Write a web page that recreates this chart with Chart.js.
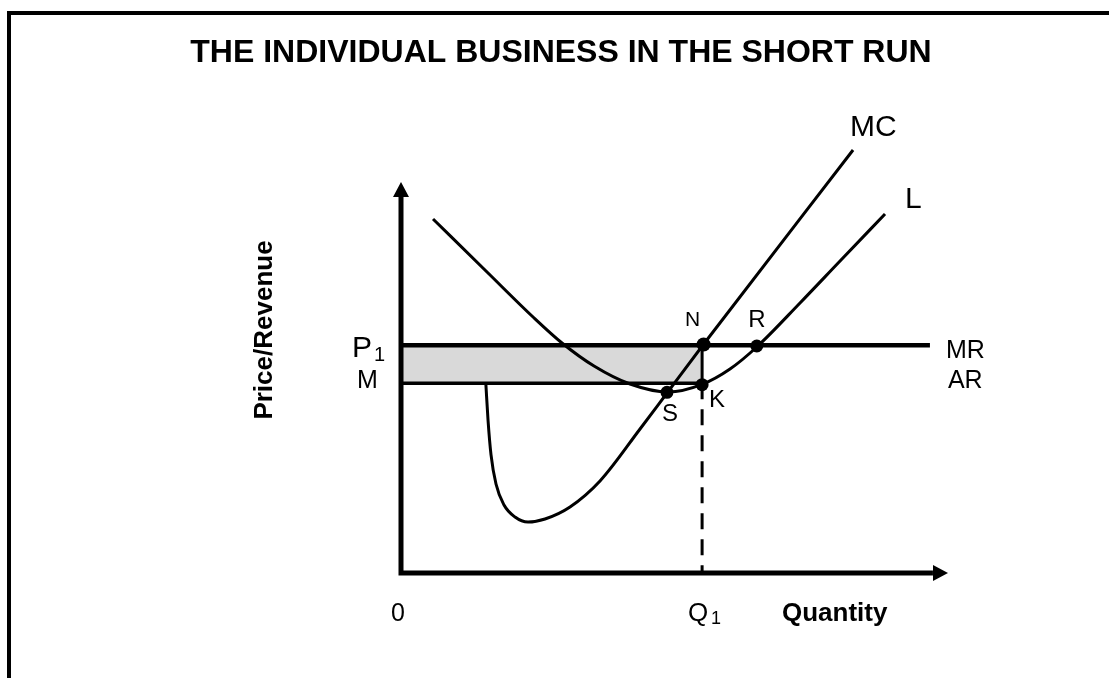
<!DOCTYPE html>
<html>
<head>
<meta charset="utf-8">
<title>The individual business in the short run</title>
<script src="https://cdn.jsdelivr.net/npm/chart.js@4.4.0/dist/chart.umd.min.js"></script>
<style>
  html, body { margin: 0; padding: 0; background: #fff; }
  #wrap { position: relative; width: 1109px; height: 678px; overflow: hidden; }
  #frame { position: absolute; left: 7px; top: 11px; right: 0; bottom: 0;
           border-left: 4px solid #000; border-top: 4px solid #000; }
  canvas { position: absolute; left: 0; top: 0; }
</style>
</head>
<body>
<div id="wrap">
  <div id="frame"></div>
  <canvas id="chart" width="1109" height="678"></canvas>
</div>
<script>
const TITLE = 'THE INDIVIDUAL BUSINESS IN THE SHORT RUN';
const X_TITLE = 'Quantity';
const Y_TITLE = 'Price/Revenue';

// key levels (arbitrary units)
const Q1 = 60;
const P1 = 60;
const M_LEVEL = 50;
const X_MAX = 109;
const Y_MAX = 103;

// curves, [quantity, price]
const mcCurve = [[16.9, 50], [17.34, 40.3], [17.94, 31.1], [18.93, 23.45], [20.53, 17.9],
  [22.72, 14.75], [25.31, 13.43], [28.7, 14.23], [33.68, 17.39], [39.66, 24.24],
  [47.63, 37.93], [53.01, 47.42], [60.18, 60.06], [90.08, 111.43]];
const lCurve = [[6.38, 93.26], [17.14, 79.29], [26.31, 67.44], [32.08, 60.59], [38.46, 54.53],
  [45.64, 49.79], [53.21, 47.68], [60.0, 49.7], [65.56, 53.74], [70.94, 59.6],
  [79.51, 71.13], [87.49, 82.19], [96.45, 94.57]];
const mrLine = [[0, P1], [105.4, P1]];
const mLine = [[0, M_LEVEL], [Q1, M_LEVEL]];
const shadeTop = [[0, P1], [Q1, P1]];
const nkLine = [[Q1, P1], [Q1, M_LEVEL]];
const q1Drop = [[Q1, M_LEVEL], [Q1, 0]];
const axisLine = [[0, 100.5], [0, 0], [106, 0]];

// marked points
const pointNames = ['N', 'K', 'S', 'R'];
const pointValues = [[60.3, 60.2], [Q1, 49.6], [53.0, 47.6], [70.9, 59.8]];

const FONT = '"Liberation Sans", Arial, Helvetica, sans-serif';

function toXY(arr) {
  return arr.map(p => ({ x: p[0], y: p[1] }));
}

function lineSet(data, extra) {
  return Object.assign({
    data: toXY(data),
    showLine: true,
    borderColor: '#000',
    borderWidth: 3,
    pointRadius: 0,
    fill: false,
    clip: false,
    tension: 0
  }, extra || {});
}

// arrows + all text
const annotate = {
  id: 'annotate',
  afterDraw(chart) {
    const ctx = chart.ctx;
    const xs = chart.scales.x;
    const ys = chart.scales.y;
    const px = v => xs.getPixelForValue(v);
    const py = v => ys.getPixelForValue(v);

    ctx.save();
    ctx.fillStyle = '#000';

    // arrow heads
    const ox = px(0), oy = py(0);
    const ty = py(Y_MAX);
    ctx.beginPath();
    ctx.moveTo(ox, ty);
    ctx.lineTo(ox - 8, ty + 15);
    ctx.lineTo(ox + 8, ty + 15);
    ctx.closePath();
    ctx.fill();
    const tx = px(X_MAX);
    ctx.beginPath();
    ctx.moveTo(tx, oy);
    ctx.lineTo(tx - 15, oy - 8);
    ctx.lineTo(tx - 15, oy + 8);
    ctx.closePath();
    ctx.fill();

    function text(str, x, y, size, align, bold) {
      ctx.font = (bold ? 'bold ' : '') + size + 'px ' + FONT;
      ctx.textAlign = align || 'left';
      ctx.textBaseline = 'alphabetic';
      ctx.fillText(str, x, y);
    }

    // title
    text(TITLE, 561, 62, 32, 'center', true);

    // axis titles
    text(X_TITLE, 782, oy + 48, 26, 'left', true);
    ctx.save();
    ctx.translate(272, 330);
    ctx.rotate(-Math.PI / 2);
    text(Y_TITLE, 0, 0, 26, 'center', true);
    ctx.restore();

    // tick-like labels
    text('0', ox - 3, oy + 48, 25, 'center');
    text('Q', px(Q1) - 14, oy + 48, 26, 'left');
    text('1', px(Q1) + 9, oy + 51, 18, 'left');
    text('P', ox - 49, py(P1) + 12, 30, 'left');
    text('1', ox - 27, py(P1) + 16, 20, 'left');
    text('M', ox - 44, py(M_LEVEL) + 5, 25, 'left');

    // curve labels
    const mcEnd = mcCurve[mcCurve.length - 1];
    text('MC', px(mcEnd[0]) - 3, py(mcEnd[1]) - 14, 30, 'left');
    const lEnd = lCurve[lCurve.length - 1];
    text('L', px(lEnd[0]) + 20, py(lEnd[1]) - 6, 30, 'left');
    const mrEnd = mrLine[1];
    text('MR', px(mrEnd[0]) + 16, py(mrEnd[1]) + 13, 25, 'left');
    text('AR', px(mrEnd[0]) + 18, py(mrEnd[1]) + 43, 25, 'left');

    // point labels
    const offs = { N: [-11, -18, 21, 'center'], K: [7, 22, 24, 'left'],
                   S: [3, 29, 24, 'center'], R: [0, -19, 24, 'center'] };
    pointNames.forEach((name, i) => {
      const o = offs[name];
      text(name, px(pointValues[i][0]) + o[0], py(pointValues[i][1]) + o[1], o[2], o[3]);
    });
    ctx.restore();
  }
};

new Chart(document.getElementById('chart'), {
  type: 'scatter',
  data: {
    datasets: [
      lineSet(shadeTop, { borderWidth: 0, borderColor: 'rgba(0,0,0,0)', order: 9 }),
      lineSet(mLine, { borderWidth: 3.5, fill: { target: 0 }, backgroundColor: '#d9d9d9', order: 8 }),
      lineSet(mrLine, { borderWidth: 4.5, order: 7 }),
      lineSet(q1Drop, { borderDash: [16, 10], order: 6 }),
      lineSet(nkLine, { order: 5 }),
      lineSet(lCurve, { cubicInterpolationMode: 'monotone', order: 4 }),
      lineSet(mcCurve, { cubicInterpolationMode: 'monotone', order: 3 }),
      lineSet(axisLine, { borderWidth: 5, borderJoinStyle: 'miter', order: 2 }),
      {
        data: toXY(pointValues),
        showLine: false,
        pointRadius: [7, 6.5, 6.5, 6.5],
        pointBackgroundColor: '#000',
        pointBorderColor: '#000',
        pointBorderWidth: 0,
        clip: false,
        order: 1
      }
    ]
  },
  options: {
    responsive: false,
    animation: false,
    devicePixelRatio: 1,
    layout: { padding: { left: 401, right: 161, top: 182, bottom: 105 } },
    scales: {
      x: { type: 'linear', min: 0, max: X_MAX, display: false },
      y: { type: 'linear', min: 0, max: Y_MAX, display: false }
    },
    plugins: {
      legend: { display: false },
      tooltip: { enabled: false },
      filler: { propagate: false }
    }
  },
  plugins: [annotate]
});
</script>
</body>
</html>
